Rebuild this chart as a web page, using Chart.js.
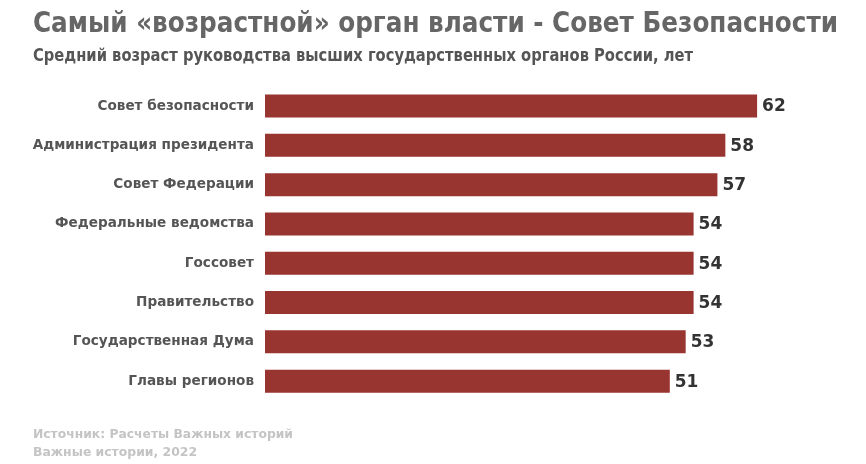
<!DOCTYPE html>
<html><head><meta charset="utf-8">
<script src="https://cdn.jsdelivr.net/npm/chart.js@4/dist/chart.umd.min.js"></script>
<style>
html,body{margin:0;padding:0;background:#fff;width:866px;height:464px;overflow:hidden;}
#wrap{position:relative;width:866px;height:464px;}
canvas{position:absolute;left:0;top:0;}
.t{position:absolute;left:33px;white-space:nowrap;transform-origin:0 0;line-height:1;}
#title{top:5px;font:bold 29px "Liberation Sans Narrow","DejaVu Sans Condensed",Roboto,sans-serif;color:#666;}
#sub{top:44px;font:bold 18px "Liberation Sans Narrow","DejaVu Sans Condensed",Roboto,sans-serif;color:#555;}
.f{font:bold 13px "DejaVu Sans",sans-serif;color:#c4c4c4;}
#f1{top:426px;}
#f2{top:444px;}
</style></head><body>
<div id="wrap">
<canvas id="c" width="866" height="464"></canvas>
<div class="t" id="title" data-w="805">Самый «возрастной» орган власти - Совет Безопасности</div>
<div class="t" id="sub" data-w="660">Средний возраст руководства высших государственных органов России, лет</div>
<div class="t f" id="f1" data-w="260">Источник: Расчеты Важных историй</div>
<div class="t f" id="f2" data-w="164">Важные истории, 2022</div>
</div>
<script>
const categories = ["Совет безопасности","Администрация президента","Совет Федерации","Федеральные ведомства","Госсовет","Правительство","Государственная Дума","Главы регионов"];
const values = [62,58,57,54,54,54,53,51];

document.querySelectorAll('.t').forEach(el=>{
  const w = el.getBoundingClientRect().width;
  const target = +el.dataset.w;
  el.style.transform = 'scaleX(' + (target/w) + ')';
});

const valueLabels = {
  id:'valueLabels',
  afterDatasetsDraw(chart){
    const ctx = chart.ctx;
    const meta = chart.getDatasetMeta(0);
    ctx.save();
    ctx.font = 'bold 17px "DejaVu Sans", sans-serif';
    ctx.fillStyle = '#333';
    ctx.textAlign = 'left';
    ctx.textBaseline = 'middle';
    meta.data.forEach((bar,i)=>{
      ctx.fillText(String(values[i]), bar.x + 5, bar.y + 1);
    });
    ctx.restore();
  }
};

new Chart(document.getElementById('c'),{
  type:'bar',
  data:{labels:categories,datasets:[{data:values,backgroundColor:'#993530',borderWidth:0,barPercentage:0.585,categoryPercentage:1}]},
  options:{
    indexAxis:'y',
    responsive:false,
    animation:false,
    layout:{padding:{top:86.4,bottom:63.2,left:0,right:45.4}},
    plugins:{legend:{display:false},tooltip:{enabled:false}},
    scales:{
      x:{display:false,min:0,max:70},
      y:{
        grid:{display:false,drawTicks:false},
        border:{display:false},
        ticks:{padding:11,color:'#555',font:{family:'"DejaVu Sans", sans-serif',weight:'bold',size:13.6}},
        afterFit(s){s.width=265;}
      }
    }
  },
  plugins:[valueLabels]
});
</script>
</body></html>
